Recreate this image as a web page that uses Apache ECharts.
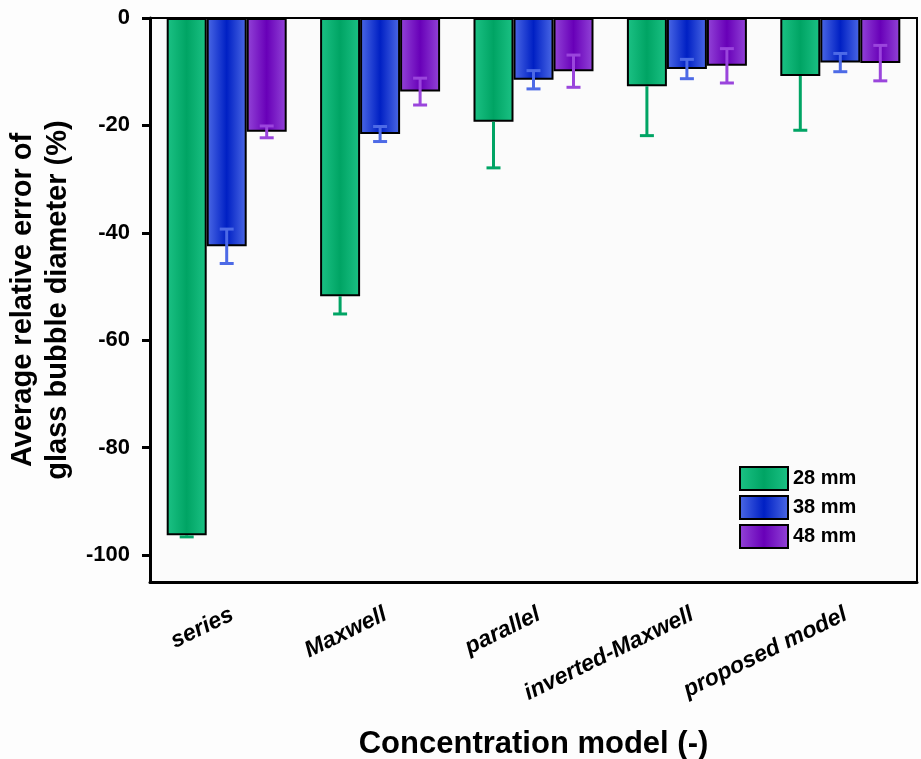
<!DOCTYPE html>
<html>
<head>
<meta charset="utf-8">
<script src="https://cdn.jsdelivr.net/npm/echarts@6/dist/echarts.min.js"></script>
<style>
  html, body { margin: 0; padding: 0; background: #fdfdfd; }
  #chart { width: 921px; height: 759px; }
</style>
</head>
<body>
<div id="chart"></div>
<script>
var categories = ['series', 'Maxwell', 'parallel', 'inverted-Maxwell', 'proposed model'];
var seriesNames = ['28 mm', '38 mm', '48 mm'];
var mean28 = [-96.3, -51.8, -19.3, -12.7, -10.8];
var mean38 = [-42.5, -21.6, -11.5, -9.5, -8.3];
var mean48 = [-21.2, -13.7, -9.9, -8.9, -8.4];
var err28 = [0.3, 3.3, 8.6, 9.2, 10.1];
var err38 = [3.2, 1.4, 1.7, 1.8, 1.7];
var err48 = [1.1, 2.5, 3.0, 3.2, 3.3];
var yTicks = [0, -20, -40, -60, -80, -100];

var chartDom = document.getElementById('chart');
var myChart = echarts.init(chartDom);
var option;

var font = 'Liberation Sans, Arial, sans-serif';
var barW = 40;

function grad(edge, center) {
  return new echarts.graphic.LinearGradient(0, 0, 1, 0, [
    { offset: 0, color: edge },
    { offset: 0.5, color: center },
    { offset: 1, color: edge }
  ]);
}

var fills = [grad('#1cc285', '#00a464'), grad('#4d6ae6', '#0020c4'), grad('#9345d8', '#6800b8')];
var errColors = ['#00a464', '#4d6ae6', '#9a45dc'];
// the green bars hide the upper half of their error bars
var errUpper = [false, true, true];
var means = [mean28, mean38, mean48];
var errs = [err28, err38, err48];

function errData(k) {
  return categories.map(function (c, i) {
    return [i, means[k][i] - errs[k][i], means[k][i] + errs[k][i], means[k][i]];
  });
}

function errSeries(k) {
  var offset = (k - 1) * barW;
  return {
    type: 'custom',
    name: seriesNames[k] + ' err',
    z: 5,
    silent: true,
    encode: { x: 0, y: [1, 2] },
    data: errData(k),
    renderItem: function (params, api) {
      var lo = api.coord([api.value(0), api.value(1)]);
      var hi = errUpper[k] ? api.coord([api.value(0), api.value(2)]) : api.coord([api.value(0), api.value(3)]);
      var x = lo[0] + offset;
      var cap = 7;
      var st = { stroke: errColors[k], lineWidth: 3 };
      var kids = [
        { type: 'line', shape: { x1: x, y1: lo[1], x2: x, y2: hi[1] }, style: st },
        { type: 'line', shape: { x1: x - cap, y1: lo[1], x2: x + cap, y2: lo[1] }, style: st }
      ];
      if (errUpper[k]) {
        kids.push({ type: 'line', shape: { x1: x - cap, y1: hi[1], x2: x + cap, y2: hi[1] }, style: st });
      }
      return { type: 'group', children: kids };
    }
  };
}

var barSeries = seriesNames.map(function (n, k) {
  return {
    name: n,
    type: 'bar',
    data: means[k],
    barWidth: barW,
    barGap: '0%',
    itemStyle: { color: fills[k], borderColor: '#000', borderWidth: 2 }
  };
});

option = {
  backgroundColor: '#fdfdfd',
  animation: false,
  legend: {
    data: seriesNames,
    orient: 'vertical',
    left: 734,
    top: 461,
    itemWidth: 48,
    itemHeight: 23,
    itemGap: 4,
    icon: 'rect',
    textStyle: { fontFamily: font, fontWeight: 'bold', fontSize: 20, lineHeight: 23, color: '#000' }
  },
  grid: {
    left: 150,
    right: 4,
    top: 18,
    bottom: 177,
    outerBoundsMode: 'none',
    show: true,
    borderColor: '#000',
    borderWidth: 2,
    backgroundColor: '#fbfbfb'
  },
  xAxis: {
    type: 'category',
    data: categories,
    name: 'Concentration model (-)',
    nameLocation: 'middle',
    nameGap: 147,
    nameTextStyle: { fontFamily: font, fontWeight: 'bold', fontSize: 31, color: '#000' },
    axisLine: { onZero: false, lineStyle: { color: '#000', width: 3 } },
    axisTick: { alignWithLabel: true, length: 8, lineStyle: { color: '#000', width: 3 } },
    axisLabel: {
      rotate: 26,
      margin: 34,
      padding: [0, -6, 0, 0],
      fontFamily: font,
      fontWeight: 'bold',
      fontStyle: 'italic',
      fontSize: 23,
      color: '#000'
    }
  },
  yAxis: {
    type: 'value',
    min: -105,
    max: 0,
    name: 'Average relative error of\nglass bubble diameter (%)',
    nameLocation: 'middle',
    nameGap: 66,
    nameTextStyle: { fontFamily: font, fontWeight: 'bold', fontSize: 29, color: '#000', lineHeight: 35 },
    axisLine: { show: true, lineStyle: { color: '#000', width: 3 } },
    axisTick: { show: true, length: 8, customValues: yTicks, lineStyle: { color: '#000', width: 3 } },
    axisLabel: { customValues: yTicks, margin: 20, fontFamily: font, fontWeight: 'bold', fontSize: 22, color: '#000' },
    splitLine: { show: false }
  },
  series: barSeries.concat([errSeries(0), errSeries(1), errSeries(2)])
};

option && myChart.setOption(option);
</script>
</body>
</html>
